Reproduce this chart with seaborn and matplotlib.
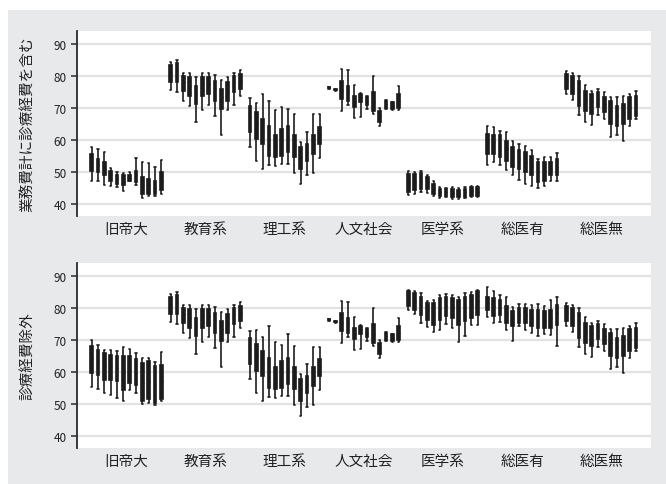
import matplotlib
matplotlib.use("Agg")
import matplotlib.pyplot as plt
from matplotlib.patches import Rectangle
import numpy as np
import pandas as pd
import seaborn as sns

# University groups along the x axis, 12 yearly boxes in each group
groups = ["旧帝大", "教育系", "理工系", "人文社会", "医学系", "総医有", "総医無"]
panel_titles = ["業務費計に診療経費を含む", "診療経費除外"]
n_years = 12

# Box summaries per year: (lower whisker, Q1, median, Q3, upper whisker)
kyutei_incl = [(47.3, 50.4, 53.0, 55.6, 57.9), (47.3, 49.9, 52.3, 54.0, 57.2),
               (45.9, 48.9, 51.0, 53.0, 56.1), (45.5, 47.3, 49.0, 50.4, 51.1),
               (45.2, 46.2, 47.8, 49.0, 49.9), (44.0, 45.8, 47.3, 48.9, 49.7),
               (47.0, 47.3, 48.1, 49.0, 49.9), (45.9, 46.8, 48.9, 50.4, 54.5),
               (41.9, 43.1, 45.8, 48.3, 53.0), (42.6, 43.1, 45.8, 47.8, 52.7),
               (42.4, 43.1, 45.3, 47.3, 51.6), (43.1, 44.3, 47.3, 50.0, 53.6)]
kyutei_excl = [(55.2, 59.7, 63.9, 68.0, 69.9), (54.8, 59.2, 63.3, 67.0, 68.3),
               (53.4, 57.6, 61.8, 65.9, 67.0), (52.9, 57.6, 61.8, 65.4, 67.0),
               (51.9, 57.1, 61.3, 64.9, 66.5), (51.0, 54.5, 59.7, 64.9, 67.7),
               (54.2, 56.6, 60.7, 64.9, 67.3), (53.4, 56.0, 59.7, 63.9, 65.9),
               (50.0, 50.8, 56.6, 62.8, 64.4), (50.3, 51.4, 57.1, 63.3, 64.4),
               (49.6, 50.3, 56.0, 61.8, 63.0), (50.8, 51.4, 57.1, 62.3, 66.3)]
kyoiku = [(75.6, 78.0, 81.1, 83.4, 84.5), (75.1, 78.0, 81.7, 84.0, 85.0),
          (72.3, 75.4, 78.0, 80.1, 81.1), (70.5, 73.9, 77.0, 79.6, 80.8),
          (65.7, 71.3, 74.4, 77.0, 79.6), (69.5, 73.9, 77.5, 79.6, 80.8),
          (70.9, 74.4, 77.5, 79.6, 80.8), (67.6, 72.3, 75.9, 78.5, 80.4),
          (61.7, 69.7, 73.3, 75.9, 78.8), (69.5, 72.3, 75.4, 78.0, 79.8),
          (70.9, 74.9, 78.0, 80.1, 81.1), (73.9, 75.9, 78.5, 80.6, 81.9)]
riko_incl = [(57.9, 62.4, 67.1, 70.7, 73.0), (53.5, 60.3, 65.0, 68.6, 71.6),
             (50.9, 58.8, 62.9, 66.6, 74.4), (52.3, 55.1, 60.3, 64.5, 72.2),
             (51.7, 54.6, 58.2, 61.4, 69.4), (52.5, 55.1, 59.8, 63.4, 70.2),
             (52.5, 56.1, 60.8, 64.5, 69.8), (49.7, 54.6, 58.2, 61.4, 68.2),
             (46.3, 50.9, 54.6, 57.7, 59.3), (49.1, 53.5, 56.1, 58.8, 62.6),
             (49.7, 55.6, 58.8, 61.4, 68.1), (54.3, 58.8, 61.4, 64.0, 68.1)]
riko_excl = [(57.9, 62.4, 67.1, 70.7, 72.8), (53.5, 60.3, 65.0, 68.6, 73.2),
             (50.9, 58.8, 62.9, 66.6, 70.8), (52.3, 55.1, 60.3, 64.5, 74.3),
             (51.7, 54.6, 58.2, 61.4, 69.3), (52.5, 55.1, 59.8, 63.4, 68.3),
             (52.5, 56.1, 60.8, 64.5, 71.9), (49.7, 54.6, 58.2, 61.4, 68.1),
             (46.3, 50.9, 54.6, 57.7, 59.3), (49.1, 53.5, 56.1, 58.8, 62.4),
             (49.7, 55.6, 58.8, 61.4, 67.9), (54.3, 58.8, 61.4, 64.0, 67.9)]
jinbun = [(76.1, 76.2, 76.4, 76.6, 76.7), (75.4, 75.5, 75.7, 75.9, 76.0),
          (69.2, 72.8, 75.4, 78.5, 82.2), (70.9, 72.3, 74.9, 77.0, 81.9),
          (66.8, 70.2, 72.3, 73.9, 77.3), (67.3, 71.8, 73.3, 74.4, 74.7),
          (69.7, 70.9, 72.3, 73.5, 73.9), (68.1, 69.2, 71.8, 74.9, 80.1),
          (64.3, 65.5, 67.6, 69.2, 69.9), (69.7, 69.9, 71.3, 72.3, 72.6),
          (69.4, 69.7, 70.7, 71.8, 72.0), (69.5, 69.9, 72.3, 74.4, 77.0)]
igaku_incl = [(42.8, 43.6, 46.8, 49.4, 50.4), (43.1, 44.2, 46.8, 49.4, 50.1),
              (43.6, 44.7, 47.3, 49.6, 50.4), (43.3, 44.7, 46.8, 48.3, 49.1),
              (42.4, 43.1, 44.7, 46.3, 47.0), (41.8, 42.4, 43.6, 44.7, 45.2),
              (42.1, 42.6, 43.6, 44.5, 44.9), (41.4, 42.1, 43.4, 44.7, 45.2),
              (41.4, 42.1, 43.1, 44.4, 44.9), (41.8, 42.3, 43.6, 44.7, 45.2),
              (42.1, 42.6, 44.0, 45.2, 45.7), (42.1, 42.4, 43.6, 45.2, 45.7)]
igaku_excl = [(79.5, 80.5, 83.1, 85.2, 85.7), (78.1, 79.5, 82.1, 84.7, 85.4),
              (75.3, 77.9, 81.0, 83.6, 84.7), (74.1, 76.4, 79.0, 81.6, 82.3),
              (72.4, 74.8, 78.4, 81.6, 82.6), (73.2, 76.4, 80.0, 83.1, 84.0),
              (75.0, 77.4, 80.5, 83.6, 84.4), (73.8, 76.9, 80.0, 83.1, 84.2),
              (69.3, 74.8, 79.0, 82.6, 83.6), (71.1, 75.8, 80.0, 83.6, 84.7),
              (74.8, 76.9, 81.0, 84.2, 85.0), (74.8, 77.9, 82.1, 85.2, 85.7)]
soi_ari_incl = [(52.2, 55.6, 59.3, 61.9, 64.5), (53.0, 55.6, 59.3, 61.6, 64.2),
                (52.2, 54.6, 58.2, 61.4, 62.9), (50.6, 53.5, 57.2, 59.8, 62.6),
                (48.9, 51.5, 54.6, 57.7, 59.8), (47.6, 50.9, 54.1, 56.7, 58.8),
                (46.3, 49.9, 53.0, 56.1, 58.2), (45.7, 48.9, 52.0, 55.1, 57.0),
                (44.9, 46.8, 49.9, 53.0, 54.1), (45.5, 47.3, 50.4, 53.0, 54.6),
                (47.3, 48.9, 50.9, 53.0, 54.6), (47.3, 48.9, 51.5, 54.1, 55.8)]
soi_ari_excl = [(77.1, 79.5, 81.6, 83.6, 86.5), (75.3, 77.4, 80.5, 83.1, 85.2),
                (75.6, 77.9, 80.0, 82.6, 84.2), (73.0, 75.3, 78.4, 80.5, 83.6),
                (69.6, 74.3, 76.9, 79.0, 80.2), (74.3, 75.3, 77.9, 80.0, 81.3),
                (73.2, 75.3, 77.9, 80.0, 81.3), (72.2, 74.3, 76.9, 79.5, 81.0),
                (71.1, 73.8, 76.9, 79.5, 81.3), (71.9, 73.8, 76.4, 79.0, 80.5),
                (71.7, 73.8, 76.9, 79.5, 82.6), (68.2, 74.8, 78.4, 81.0, 83.6)]
soi_nashi = [(74.4, 75.9, 78.5, 80.6, 81.7), (72.6, 74.4, 77.5, 80.1, 80.9),
             (67.8, 70.7, 75.4, 78.5, 80.1), (65.7, 69.2, 72.8, 75.4, 77.2),
             (64.7, 68.1, 71.8, 74.4, 75.4), (67.8, 70.2, 72.8, 74.9, 75.9),
             (66.6, 68.6, 71.3, 73.3, 74.9), (60.8, 65.0, 69.2, 72.3, 73.6),
             (61.6, 64.5, 67.6, 70.7, 73.3), (59.8, 65.0, 68.6, 71.3, 73.9),
             (64.5, 66.6, 70.2, 73.3, 74.4), (66.6, 67.6, 71.3, 73.9, 75.4)]

panels = [
    [kyutei_incl, kyoiku, riko_incl, jinbun, igaku_incl, soi_ari_incl, soi_nashi],
    [kyutei_excl, kyoiku, riko_excl, jinbun, igaku_excl, soi_ari_excl, soi_nashi],
]

group_step = 12.5  # slots per group, including the gap between groups


def long_frame(panel):
    rows = []
    for g, boxes in enumerate(panel):
        for j, five in enumerate(boxes):
            pos = g * group_step + j
            for v in five:
                rows.append({"pos": pos, "value": v})
    return pd.DataFrame(rows)


sns.set_style("white")
plt.rcParams["font.family"] = ["Noto Sans CJK JP", "DejaVu Sans"]

W, H = 666, 485
fig = plt.figure(figsize=(W / 100, H / 100), dpi=100, facecolor="white")
fig.patches.append(Rectangle((8 / W, 0), 1, (H - 11) / H, transform=fig.transFigure,
                             facecolor="#e8e9eb", edgecolor="none", zorder=-10))

axes_px = [(77, 32, 574, 185), (77, 264, 574, 185)]
box_color = "#1c1c1c"
centers = [g * group_step + (n_years - 1) / 2 for g in range(len(groups))]

for panel, title, (x0, y0, w, h) in zip(panels, panel_titles, axes_px):
    ax = fig.add_axes([x0 / W, (H - y0 - h) / H, w / W, h / H])
    ax.set_facecolor("white")
    df = long_frame(panel)
    sns.boxplot(data=df, x="pos", y="value", native_scale=True, orient="x",
                whis=(0, 100), width=0.42, color=box_color, linecolor=box_color,
                linewidth=1.2, medianprops={"color": box_color, "linewidth": 1.0},
                ax=ax)
    ax.set_xlim(-2.32, 88.36)
    ax.set_ylim(36.2, 94.1)
    ax.set_yticks([40, 50, 60, 70, 80, 90])
    ax.set_yticklabels(["40", "50", "60", "70", "80", "90"], fontsize=8.5, color="#222222")
    ax.set_xticks(centers)
    ax.set_xticklabels(groups, fontsize=10.5, color="#222222")
    ax.tick_params(axis="x", length=0, pad=4)
    ax.tick_params(axis="y", length=4, width=1.1, color="#2a2a2a", pad=3.5, direction="out", left=True)
    ax.yaxis.grid(True, color="#e2e2e2", linewidth=1.6)
    ax.xaxis.grid(False)
    ax.set_axisbelow(True)
    for s in ["top", "right", "bottom"]:
        ax.spines[s].set_visible(False)
    ax.spines["left"].set_color("#2a2a2a")
    ax.spines["left"].set_linewidth(1.3)
    ax.set_xlabel("")
    ax.set_ylabel(title, fontsize=10.5, color="#222222")
    ax.yaxis.set_label_coords(-0.074, 0.5)

fig.savefig("out.png", dpi=100, facecolor=fig.get_facecolor())
